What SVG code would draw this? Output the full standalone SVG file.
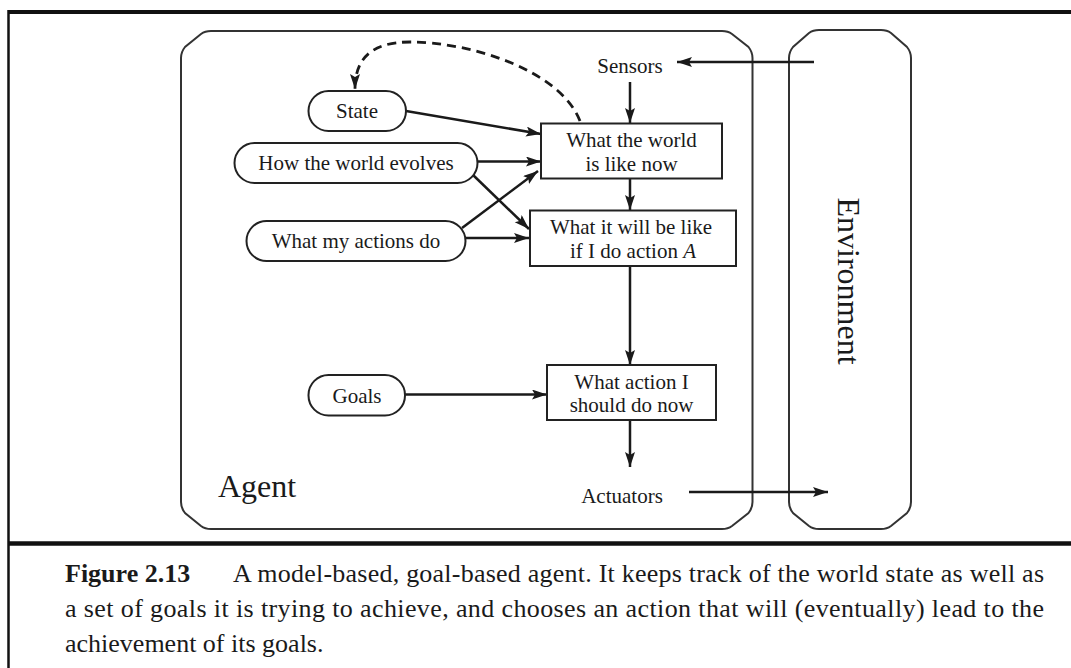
<svg xmlns="http://www.w3.org/2000/svg" width="1071" height="668" viewBox="0 0 1071 668">
  <defs>
    <marker id="arrow" markerUnits="userSpaceOnUse" markerWidth="17" markerHeight="12" refX="15" refY="5" orient="auto">
      <path d="M0,0 L15,5 L0,10 L3,5 z" fill="#1a1a1a"/>
    </marker>
    <style>
      .frame { stroke: #111; fill: none; }
      .container { fill: none; stroke: #333; stroke-width: 2; }
      .pill { fill: #fff; stroke: #222; stroke-width: 2; }
      .box { fill: #fff; stroke: #222; stroke-width: 2; }
      .label { font-family: "Liberation Serif", "Times New Roman", serif; font-size: 21px; fill: #1a1a1a; text-anchor: middle; }
      .big { font-family: "Liberation Serif", "Times New Roman", serif; font-size: 32px; fill: #1a1a1a; }
      .edge { fill: none; stroke: #1a1a1a; stroke-width: 2.5; marker-end: url(#arrow); }
      .dashed { stroke-dasharray: 9 6; stroke-width: 2.8; }
      .caption { font-family: "Liberation Serif", "Times New Roman", serif; font-size: 26px; fill: #1a1a1a; }
    </style>
  </defs>

  <rect width="1071" height="668" fill="#fff"/>

  <!-- figure frame -->
  <g id="frame">
    <line class="frame" x1="8" y1="12" x2="1071" y2="12" stroke-width="4"/>
    <line class="frame" x1="8.5" y1="10" x2="8.5" y2="668" stroke-width="2.5"/>
    <line class="frame" x1="8" y1="543.5" x2="1071" y2="543.5" stroke-width="4.5"/>
  </g>

  <!-- agent container: chamfered corners -->
  <g id="agent">
    <path class="container" d="M181,58 Q181,52 185,47 L201,34 Q205,31 211,31 L722,31 Q728,31 732,34 L748.5,47 Q752.5,52 752.5,58 L752.5,502 Q752.5,508 748.5,513 L732,526 Q728,529 722,529 L211,529 Q205,529 201,526 L185,513 Q181,508 181,502 Z"/>
    <text class="big" x="218" y="497">Agent</text>
  </g>

  <!-- environment container -->
  <g id="environment">
    <path class="container" d="M789,58 Q789,52 793,47 L809,33 Q813,30 819,30 L881,30 Q887,30 891,33 L907,47 Q911,52 911,58 L911,502 Q911,508 907,513 L891,526 Q887,529 881,529 L819,529 Q813,529 809,526 L793,513 Q789,508 789,502 Z"/>
    <text class="big" transform="translate(838,281) rotate(90)" text-anchor="middle" font-size="33">Environment</text>
  </g>

  <!-- connectors -->
  <g id="connectors">
    <path class="edge" d="M814,62 H677"/>
    <path class="edge" d="M630,82 V123"/>
    <path class="edge" d="M406,111 L541,134"/>
    <path class="edge" d="M477,161.5 H541"/>
    <path class="edge" d="M472,174 L529,229"/>
    <path class="edge" d="M462,228 L538,171"/>
    <path class="edge" d="M465,238 H529"/>
    <path class="edge" d="M630,178 V210"/>
    <path class="edge" d="M630,266 V365"/>
    <path class="edge" d="M405,394.5 H547"/>
    <path class="edge" d="M630,420 V467"/>
    <path class="edge" d="M689,492 H828"/>
    <path class="edge dashed" d="M580,121 C560,70 470,42 410,42 C370,42 355,60 355,89"/>
  </g>

  <!-- labels outside boxes -->
  <g id="sensors">
    <text class="label" x="630" y="73">Sensors</text>
  </g>
  <g id="actuators">
    <text class="label" x="622" y="503">Actuators</text>
  </g>

  <!-- model components -->
  <g id="state">
    <rect class="pill" x="308.5" y="91" width="97.5" height="40" rx="20"/>
    <text class="label" x="357" y="118">State</text>
  </g>
  <g id="world-evolves">
    <rect class="pill" x="234.5" y="143" width="243" height="40" rx="20"/>
    <text class="label" x="356" y="170">How the world evolves</text>
  </g>
  <g id="actions-do">
    <rect class="pill" x="246.5" y="221" width="219" height="40" rx="20"/>
    <text class="label" x="356" y="248">What my actions do</text>
  </g>
  <g id="goals">
    <rect class="pill" x="308.5" y="375" width="96.5" height="40.5" rx="20"/>
    <text class="label" x="357" y="403">Goals</text>
  </g>

  <!-- reasoning boxes -->
  <g id="world-now">
    <rect class="box" x="541" y="123.5" width="181" height="55"/>
    <text class="label" x="631.5" y="147">What the world</text>
    <text class="label" x="631.5" y="171">is like now</text>
  </g>
  <g id="world-if-action">
    <rect class="box" x="530" y="210.5" width="206" height="55.5"/>
    <text class="label" x="631" y="234">What it will be like</text>
    <text class="label" x="633" y="258">if I do action <tspan font-style="italic">A</tspan></text>
  </g>
  <g id="action-now">
    <rect class="box" x="547" y="365" width="169" height="55"/>
    <text class="label" x="631.5" y="389">What action I</text>
    <text class="label" x="631.5" y="412">should do now</text>
  </g>

  <!-- caption -->
  <g id="caption">
    <text class="caption" x="65" y="582" font-weight="bold">Figure 2.13</text>
    <text class="caption" x="233" y="582" textLength="811" lengthAdjust="spacing">A model-based, goal-based agent. It keeps track of the world state as well as</text>
    <text class="caption" x="65" y="617" textLength="979" lengthAdjust="spacing">a set of goals it is trying to achieve, and chooses an action that will (eventually) lead to the</text>
    <text class="caption" x="65" y="652">achievement of its goals.</text>
  </g>
</svg>
